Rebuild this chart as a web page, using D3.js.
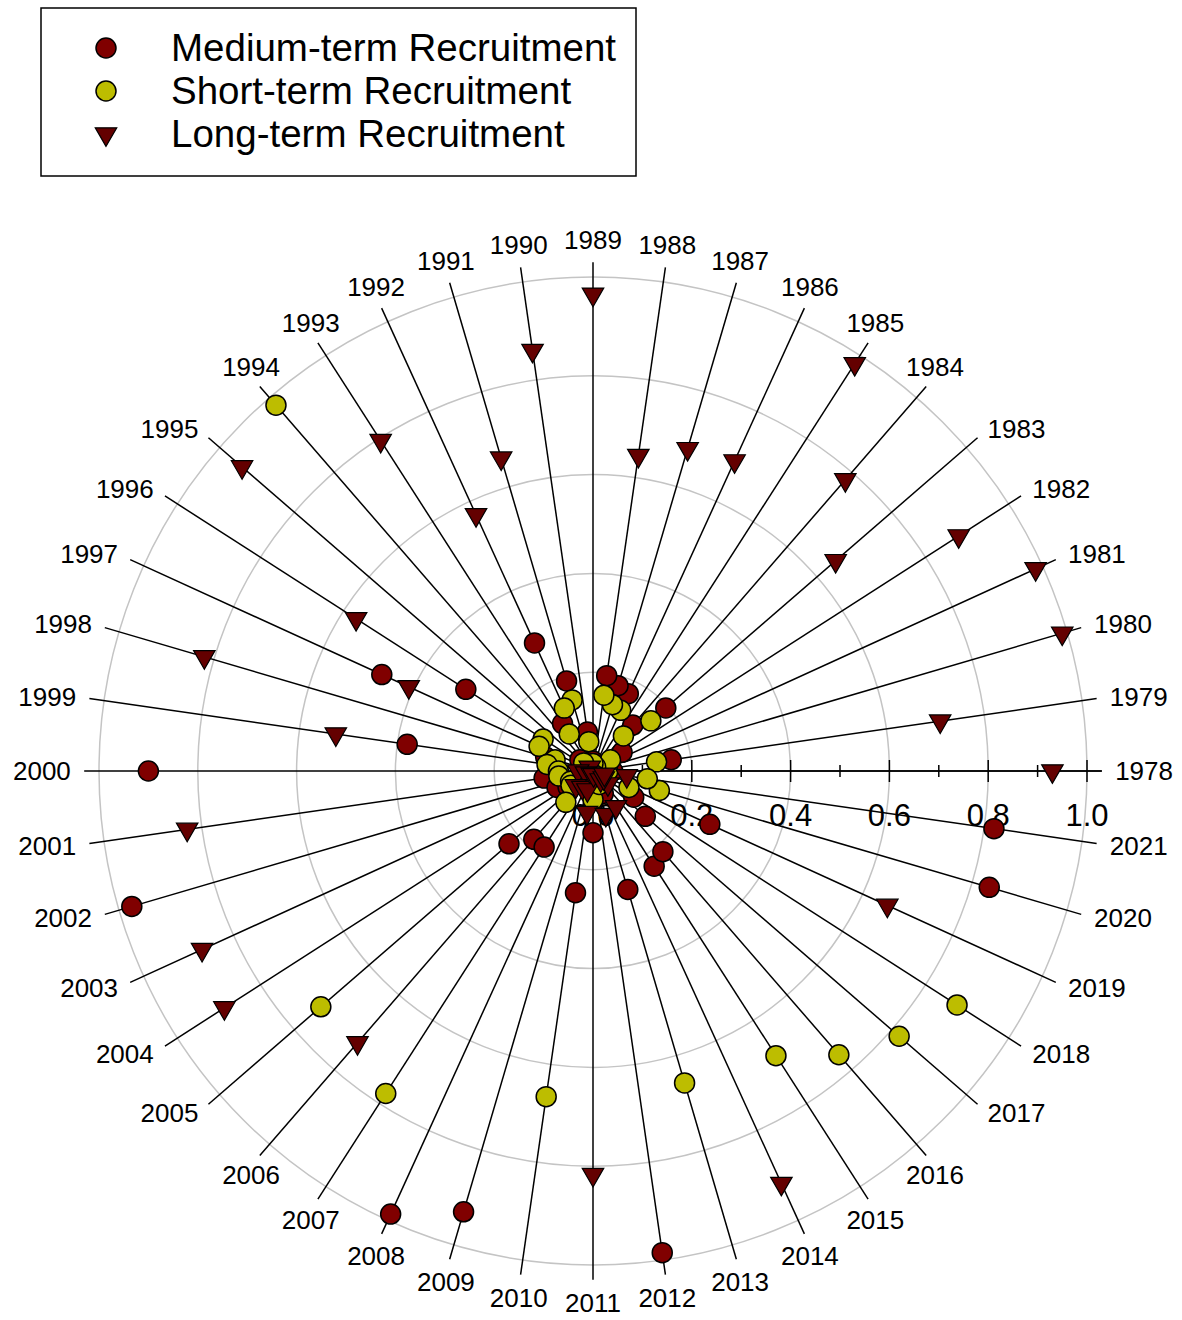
<!DOCTYPE html>
<html>
<head>
<meta charset="utf-8">
<script src="https://cdn.jsdelivr.net/npm/d3@7"></script>
<style>
  body { margin: 0; background: #fff; }
  text { font-family: "Liberation Sans", Arial, sans-serif; fill: #000; }
</style>
</head>
<body>
<svg id="chart" width="1182" height="1320"></svg>
<script>

/////////////////////
// Data
/////////////////////

var years = [1978, 1979, 1980, 1981, 1982, 1983, 1984, 1985, 1986, 1987, 1988,
             1989, 1990, 1991, 1992, 1993, 1994, 1995, 1996, 1997, 1998, 1999,
             2000, 2001, 2002, 2003, 2004, 2005, 2006, 2007, 2008, 2009, 2010,
             2011, 2012, 2013, 2014, 2015, 2016, 2017, 2018, 2019, 2020, 2021];

var mediumTerm = [0.04, 0.16, 0.005, 0.01, 0.07, 0.195, 0.123, 0.01, 0.172, 0.18, 0.195,
                  0.02, 0.08, 0.19, 0.285, 0.114, 0.01, 0.035, 0.306, 0.47, 0.10, 0.38,
                  0.90, 0.10, 0.973, 0.08, 0.06, 0.225, 0.183, 0.183, 0.986, 0.93, 0.249,
                  0.125, 0.985, 0.25, 0.05, 0.229, 0.216, 0.14, 0.098, 0.26, 0.836, 0.82];

var shortTerm = [0.03, 0.13, 0.005, 0.005, 0.042, 0.155, 0.094, 0.01, 0.135, 0.14, 0.155,
                 0.015, 0.06, 0.15, 0.14, 0.089, 0.98, 0.025, 0.12, 0.12, 0.08, 0.094,
                 0.07, 0.07, 0.012, 0.05, 0.053, 0.729, 0.084, 0.776, 0.007, 0.03, 0.666,
                 0.058, 0.007, 0.658, 0.03, 0.685, 0.76, 0.82, 0.876, 0.08, 0.14, 0.111];

var longTerm = [0.93, 0.71, 0.99, 0.985, 0.88, 0.65, 0.78, 0.98, 0.69, 0.68, 0.645,
                0.965, 0.86, 0.66, 0.57, 0.795, 0.01, 0.94, 0.57, 0.41, 0.82, 0.526,
                0.03, 0.83, 0.015, 0.87, 0.887, 0.046, 0.728, 0.04, 0.007, 0.04, 0.085,
                0.817, 0.008, 0.092, 0.918, 0.086, 0.024, 0.04, 0.026, 0.655, 0.024, 0.069];

var seriesNames = ["Medium-term Recruitment", "Short-term Recruitment", "Long-term Recruitment"];
var gridRings = [0.2, 0.4, 0.6, 0.8, 1.0];
var tickLabels = ["0.0", "0.2", "0.4", "0.6", "0.8", "1.0"];

/////////////////////
// Setup
/////////////////////

var svg = d3.select("#chart");
var cx = 593, cy = 771, R = 494;

var angle = d3.scaleLinear()
    .domain([years[0], years[years.length - 1] + 1])
    .range([0, 2 * Math.PI]);

var radius = d3.scaleLinear()
    .domain([0, 1])
    .range([0, R]);

function px(r, a) { return cx + radius(r) * Math.cos(a); }
function py(r, a) { return cy - radius(r) * Math.sin(a); }

var colors = { medium: "#800000", short: "#bdbd00", long: "#640000" };

var triangle = d3.symbol().type(d3.symbolTriangle).size(200);

// grid rings
svg.append("g").selectAll("circle")
    .data(gridRings)
  .enter().append("circle")
    .attr("cx", cx)
    .attr("cy", cy)
    .attr("r", function(d) { return radius(d); })
    .attr("fill", "none")
    .attr("stroke", "#c4c4c4")
    .attr("stroke-width", 1.5);

// spokes
svg.append("g").selectAll("line")
    .data(years)
  .enter().append("line")
    .attr("x1", cx)
    .attr("y1", cy)
    .attr("x2", function(d) { return px(1.03, angle(d)); })
    .attr("y2", function(d) { return py(1.03, angle(d)); })
    .attr("stroke", "#000")
    .attr("stroke-width", 1.5);

// year labels: side labels aligned left/right, top and bottom labels centred
svg.append("g").selectAll("text")
    .data(years)
  .enter().append("text")
    .attr("font-size", 26)
    .attr("x", function(d) { return px(1.057, angle(d)); })
    .attr("y", function(d) { return py(1.057, angle(d)); })
    .attr("text-anchor", function(d) {
        var a = angle(d), c = Math.cos(a), s = Math.sin(a);
        if (Math.abs(c) >= Math.abs(s)) return c > 0 ? "start" : "end";
        return "middle";
    })
    .attr("dy", function(d) {
        var a = angle(d), c = Math.cos(a), s = Math.sin(a);
        if (Math.abs(c) >= Math.abs(s)) return "0.36em";
        return s > 0 ? "0em" : "0.72em";
    })
    .text(function(d) { return d; });

// radial axis along 1978
var axis = svg.append("g");
axis.append("line")
    .attr("x1", cx).attr("y1", cy)
    .attr("x2", px(1.03, 0)).attr("y2", cy)
    .attr("stroke", "#000").attr("stroke-width", 1.5);

axis.selectAll(".tick")
    .data(radius.ticks(10).filter(function(d) { return d > 0; }))
  .enter().append("line")
    .attr("x1", function(d) { return cx + radius(d); })
    .attr("x2", function(d) { return cx + radius(d); })
    .attr("y1", function(d, i) { return cy - (i % 2 ? 11 : 6); })
    .attr("y2", function(d, i) { return cy + (i % 2 ? 11 : 6); })
    .attr("stroke", "#000")
    .attr("stroke-width", 1.5);

axis.selectAll(".tl")
    .data(tickLabels)
  .enter().append("text")
    .attr("x", function(d) { return cx + radius(+d); })
    .attr("y", cy + 55)
    .attr("text-anchor", "middle")
    .attr("font-size", 31)
    .text(function(d) { return d; });

/////////////////////
// Points
/////////////////////

svg.append("g").selectAll("circle")
    .data(years)
  .enter().append("circle")
    .attr("cx", function(d, i) { return px(mediumTerm[i], angle(d)); })
    .attr("cy", function(d, i) { return py(mediumTerm[i], angle(d)); })
    .attr("r", 10)
    .attr("fill", colors.medium)
    .attr("stroke", "#000")
    .attr("stroke-width", 1.5);

svg.append("g").selectAll("circle")
    .data(years)
  .enter().append("circle")
    .attr("cx", function(d, i) { return px(shortTerm[i], angle(d)); })
    .attr("cy", function(d, i) { return py(shortTerm[i], angle(d)); })
    .attr("r", 10)
    .attr("fill", colors.short)
    .attr("stroke", "#000")
    .attr("stroke-width", 1.5);

svg.append("g").selectAll("path")
    .data(years)
  .enter().append("path")
    .attr("d", triangle)
    .attr("transform", function(d, i) {
        return "translate(" + px(longTerm[i], angle(d)) + "," + py(longTerm[i], angle(d)) + ") rotate(180)";
    })
    .attr("fill", colors.long)
    .attr("stroke", "#000")
    .attr("stroke-width", 1.2);

/////////////////////
// Legend
/////////////////////

var legend = svg.append("g");
legend.append("rect")
    .attr("x", 41).attr("y", 8)
    .attr("width", 595).attr("height", 168)
    .attr("fill", "#fff")
    .attr("stroke", "#000")
    .attr("stroke-width", 1.5);

var items = legend.selectAll(".item")
    .data(seriesNames)
  .enter().append("g")
    .attr("transform", function(d, i) { return "translate(106," + (48 + i * 43) + ")"; });

items.each(function(d, i) {
    var g = d3.select(this);
    if (i < 2) {
        g.append("circle").attr("r", 10)
            .attr("fill", i === 0 ? colors.medium : colors.short)
            .attr("stroke", "#000").attr("stroke-width", 1.5);
    } else {
        g.append("path").attr("d", triangle).attr("transform", "rotate(180)")
            .attr("fill", colors.long).attr("stroke", "#000").attr("stroke-width", 1.2);
    }
    g.append("text")
        .attr("x", 65)
        .attr("y", 13)
        .attr("font-size", 38.5)
        .text(d);
});

</script>
</body>
</html>
